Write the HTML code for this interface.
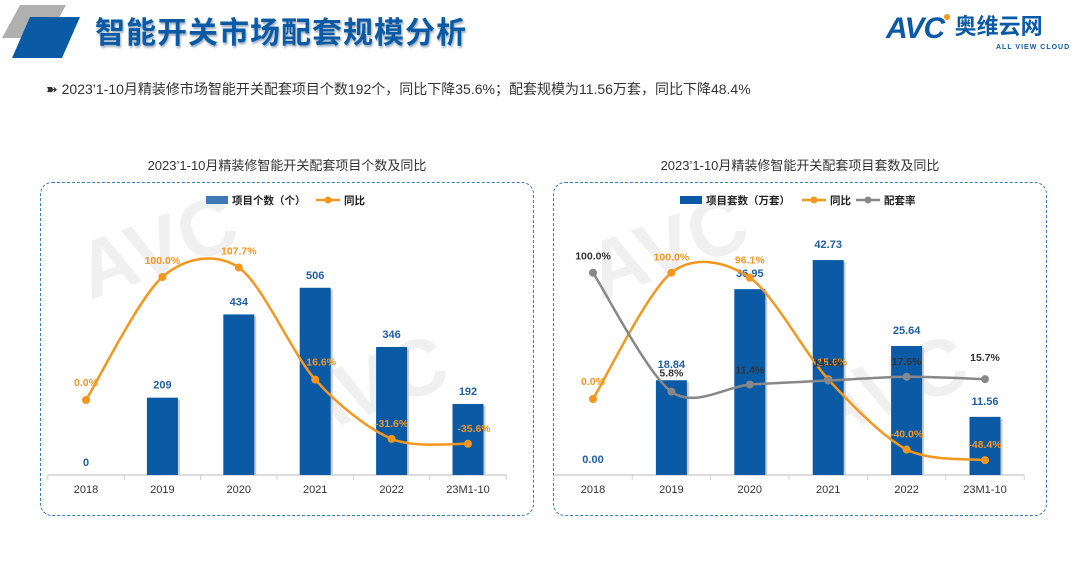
<!DOCTYPE html>
<html><head><meta charset="utf-8">
<style>
body{margin:0;width:1080px;height:562px;background:#fff;position:relative;overflow:hidden;font-family:"Liberation Sans","Noto Sans CJK SC",sans-serif;}
.abs{position:absolute;}
.box{position:absolute;border:1.5px dashed #3a78c0;border-radius:12px;}
</style></head><body>
<div class="abs" style="left:0;top:0;width:90px;height:60px;">
<svg width="90" height="60"><polygon points="20,5 66,5 48,38 2,38" fill="#b0b0b0"/><polygon points="30,17 80,17 62,58 12,58" fill="#0b5aa6"/></svg>
</div>
<div class="abs" style="left:95px;top:8px;font-size:30px;font-weight:bold;color:#0b5aa6;letter-spacing:1px;text-shadow:1px 2px 2px #9ab;">智能开关市场配套规模分析</div>
<div class="abs" style="left:886px;top:12px;">
<span style="font-size:30px;font-weight:bold;font-style:italic;color:#0b5aa6;letter-spacing:-1px;">AVC</span><span style="display:inline-block;width:6px;height:6px;border-radius:3px;background:#f39a1e;position:relative;top:-18px;"></span>
<span style="font-size:22px;font-weight:bold;color:#0b5aa6;position:relative;top:-4px;">奥维云网</span>
<div style="position:absolute;left:110px;top:32px;font-size:7px;color:#0b5aa6;font-weight:bold;letter-spacing:1px;white-space:nowrap;">ALL VIEW CLOUD</div>
</div>
<div class="abs" style="left:46px;top:79px;font-size:14px;color:#333;white-space:nowrap;">➽ 2023’1-10月精装修市场智能开关配套项目个数192个，同比下降35.6%；配套规模为11.56万套，同比下降48.4%</div>
<div class="abs" style="left:40px;width:494px;top:155px;text-align:center;font-size:13px;color:#333;">2023’1-10月精装修智能开关配套项目个数及同比</div>
<div class="abs" style="left:553px;width:494px;top:155px;text-align:center;font-size:13px;color:#333;">2023’1-10月精装修智能开关配套项目套数及同比</div>
<div class="box" style="left:40px;top:182px;width:492px;height:332px;"></div>
<div class="box" style="left:553px;top:182px;width:492px;height:332px;"></div>
<svg id="chart" class="abs" style="left:0;top:0" width="1080" height="562"></svg>
<script>
const cats=["2018","2019","2020","2021","2022","23M1-10"];
const leftCounts=[0,209,434,506,346,192];
const leftCountLabels=["0","209","434","506","346","192"];
const leftYoy=[0,100,107.7,16.6,-31.6,-35.6];
const rightSets=[0,18.84,36.95,42.73,25.64,11.56];
const rightYoy=[0,100,96.1,15.6,-40,-48.4];
const rightRate=[100,5.8,11.4,14.6,17.6,15.7];

const NS="http://www.w3.org/2000/svg";
const svg=document.getElementById('chart');
function mk(t,a,parent){const e=document.createElementNS(NS,t);for(const k in a)e.setAttribute(k,a[k]);(parent||svg).appendChild(e);return e;}
function txt(x,y,s,fill,size,bold,anchor){const e=mk('text',{x:x,y:y,fill:fill,'font-size':size||11,'font-weight':bold?'bold':'normal','text-anchor':anchor||'middle','font-family':'Liberation Sans, Noto Sans CJK SC, sans-serif'});e.textContent=s;return e;}
function smooth(pts){let d=`M${pts[0][0]},${pts[0][1]}`;for(let i=0;i<pts.length-1;i++){const p0=pts[i-1]||pts[i],p1=pts[i],p2=pts[i+1],p3=pts[i+2]||p2;const t=0.15;const c1=[p1[0]+(p2[0]-p0[0])*t,p1[1]+(p2[1]-p0[1])*t],c2=[p2[0]-(p3[0]-p1[0])*t,p2[1]-(p3[1]-p1[1])*t];d+=` C${c1[0]},${c1[1]} ${c2[0]},${c2[1]} ${p2[0]},${p2[1]}`;}return d;}
const fmtP=v=>v.toFixed(1)+'%';

[[90,300],[600,300],[300,440],[820,440]].forEach(([x,y])=>{const g=txt(x,y,'AVC','#f0f0f0',80,true,'start');g.setAttribute('transform',`rotate(-20 ${x} ${y})`);});

function drawChart(cfg){
  const base=475;
  const xs=i=>cfg.x0+i*cfg.step;
  const yBar=v=>base-v*cfg.barScale;
  const yPct=v=>cfg.zeroY-v*cfg.pctScale;
  const ax=mk('line',{x1:cfg.x0-cfg.step/2,x2:cfg.x0+5.5*cfg.step,y1:base,y2:base,stroke:'#d0d0d0','stroke-width':1.5});
  
  for(let i=0;i<=6;i++){const tk=mk('line',{x1:cfg.x0+(i-0.5)*cfg.step,x2:cfg.x0+(i-0.5)*cfg.step,y1:base,y2:base+5,stroke:'#d0d0d0'});}
  cats.forEach((c,i)=>{const t=txt(xs(i),493,c,'#333',11);});
  cfg.bars.forEach((v,i)=>{
    if(v>0){const r=mk('rect',{x:xs(i)-15.5+2,y:yBar(v)+2,width:31,height:base-yBar(v)-2,fill:'#ccc'});
    const b=mk('rect',{x:xs(i)-15.5,y:yBar(v),width:31,height:base-yBar(v),fill:'#0b5aa6'});}
    const l=txt(xs(i),yBar(v)-(cfg.barLabDy||9),cfg.barLabels[i],'#1f5fa8',11,true);
  });
  cfg.lines.forEach(ln=>{
    const pts=ln.vals.map((v,i)=>[xs(i),yPct(v)]);
    const p=mk('path',{d:smooth(pts),fill:'none',stroke:ln.color,'stroke-width':2.5});
    pts.forEach((q,i)=>{const c=mk('circle',{cx:q[0],cy:q[1],r:4,fill:ln.color});
      const t=txt(q[0]+(ln.dx?ln.dx[i]:0),q[1]+(ln.dy?ln.dy[i]:-12),fmtP(ln.vals[i]),ln.labelColor,10.5,true);});
  });
  let lx=cfg.legX;const ly=200;
  const lr=mk('rect',{x:lx,y:ly-4,width:22,height:8,fill:cfg.legBarColor});
  lx+=26;const t1=txt(lx,ly+4,cfg.legBar,'#222',10.5,true,'start');
  lx+=cfg.legBarW;
  cfg.lines.forEach(ln=>{const l=mk('line',{x1:lx,x2:lx+24,y1:ly,y2:ly,stroke:ln.color,'stroke-width':2.5});
    const m=mk('circle',{cx:lx+12,cy:ly,r:3.5,fill:ln.color});
    const t=txt(lx+28,ly+4,ln.legend,'#222',10.5,true,'start');lx+=28+ln.legend.length*11+4;});
}
drawChart({x0:86,step:76.4,barScale:0.37,zeroY:400,pctScale:1.23,bars:leftCounts,barLabels:leftCountLabels,
  legX:206,legBar:'项目个数（个）',legBarW:84,legBarColor:'#3e7bb6',
  lines:[{name:'yoy',color:'#f5961f',labelColor:'#f5961f',legend:'同比',vals:leftYoy,dx:[0,0,0,6,0,6],dy:[-14,-13,-13,-14,-12,-12]}]});
drawChart({x0:593,step:78.4,barScale:5.03,zeroY:399,pctScale:1.263,bars:rightSets,barLabels:rightSets.map(v=>v.toFixed(2)),barLabDy:12,
  legX:680,legBar:'项目套数（万套）',legBarW:96,legBarColor:'#0b5aa6',
  lines:[{name:'yoy',color:'#f5961f',labelColor:'#f5961f',legend:'同比',vals:rightYoy,dx:[0,0,0,4,0,0],dy:[-14,-12,-14,-14,-12,-12]},
         {name:'rate',color:'#888888',labelColor:'#333',legend:'配套率',vals:rightRate,dy:[-13,-15,-11,-14,-12,-18]}]});
</script>
</body></html>
